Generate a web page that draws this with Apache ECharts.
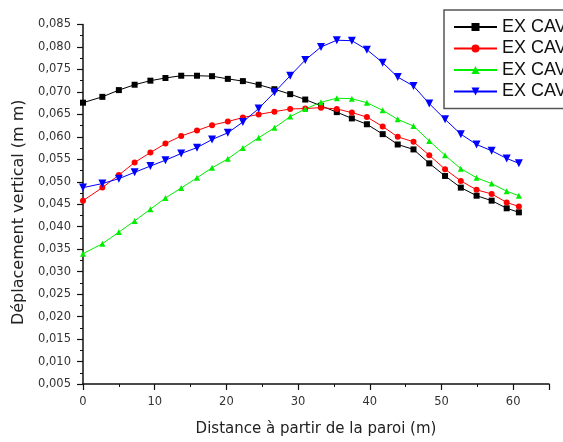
<!DOCTYPE html>
<html>
<head>
<meta charset="utf-8">
<script src="https://cdn.jsdelivr.net/npm/echarts@6/dist/echarts.min.js"></script>
<style>html,body{margin:0;padding:0;background:#fff;}#c{width:563px;height:442px;}</style>
</head>
<body>
<div id="c"></div>
<script>
const distances = [0, 2.7, 5.0, 7.2, 9.4, 11.5, 13.7, 15.9, 18.0, 20.2, 22.3, 24.5, 26.7, 28.9, 31.0, 33.2, 35.4, 37.5, 39.6, 41.8, 43.9, 46.1, 48.3, 50.5, 52.7, 54.9, 57.0, 59.1, 60.8];
const excav1 = [0.0676, 0.0689, 0.0704, 0.0716, 0.0725, 0.0731, 0.0736, 0.0736, 0.0735, 0.0729, 0.0724, 0.0716, 0.0706, 0.0695, 0.0683, 0.0669, 0.0655, 0.0641, 0.0628, 0.0606, 0.0583, 0.0572, 0.0541, 0.0513, 0.0487, 0.0469, 0.0458, 0.0441, 0.0432];
const excav2 = [0.0458, 0.0487, 0.0515, 0.0543, 0.0565, 0.0585, 0.0602, 0.0614, 0.0626, 0.0634, 0.0643, 0.0650, 0.0656, 0.0662, 0.0663, 0.0665, 0.0662, 0.0654, 0.0644, 0.0623, 0.0600, 0.0589, 0.0559, 0.0528, 0.0502, 0.0482, 0.0473, 0.0454, 0.0445];
const excav3 = [0.0340, 0.0362, 0.0388, 0.0413, 0.0439, 0.0464, 0.0486, 0.0509, 0.0531, 0.0551, 0.0575, 0.0598, 0.0620, 0.0645, 0.0662, 0.0677, 0.0686, 0.0685, 0.0676, 0.0659, 0.0639, 0.0624, 0.0591, 0.0559, 0.0529, 0.0509, 0.0496, 0.0479, 0.0469];
const excav4 = [0.0487, 0.0496, 0.0507, 0.0521, 0.0535, 0.0548, 0.0563, 0.0576, 0.0594, 0.0609, 0.0633, 0.0663, 0.0699, 0.0736, 0.0771, 0.0800, 0.0815, 0.0814, 0.0794, 0.0765, 0.0733, 0.0713, 0.0674, 0.0639, 0.0606, 0.0583, 0.0569, 0.0552, 0.0541];
const seriesNames = ['EX CAV1', 'EX CAV2', 'EX CAV3', 'EX CAV4'];
const seriesColors = ['#000000', '#ff0000', '#00ee00', '#0000ff'];
const seriesSymbols = ['rect', 'circle', 'triangle', 'path://M0,0 L10,0 L5,9 Z'];
const seriesValues = [excav1, excav2, excav3, excav4];

const chart = echarts.init(document.getElementById('c'), null, {renderer: 'canvas'});
const tickFont = 'DejaVu Sans';
const axisCommon = {
  axisLine: {show: true, onZero: false, lineStyle: {color: '#111', width: 1.5}},
  axisTick: {show: true, inside: false, length: 6, lineStyle: {color: '#111', width: 1.2}},
  minorTick: {show: true, splitNumber: 2, length: 3, lineStyle: {color: '#111', width: 1}},
  splitLine: {show: false},
  axisLabel: {color: '#333', fontFamily: tickFont, fontSize: 11.5, margin: 12},
  nameTextStyle: {color: '#222', fontFamily: tickFont, fontSize: 15}
};
chart.setOption({
  backgroundColor: '#fff',
  animation: false,
  grid: {left: 83, right: 14, top: 24.5, bottom: 56.3, containLabel: false},
  legend: {
    left: 444, top: 10,
    orient: 'vertical',
    itemWidth: 43, itemHeight: 10, itemGap: 3.5,
    padding: [8, 60, 8, 9],
    borderColor: '#555', borderWidth: 1.5, backgroundColor: '#fff',
    textStyle: {fontFamily: 'Liberation Sans', fontSize: 18, color: '#111'},
    data: seriesNames
  },
  xAxis: Object.assign({}, axisCommon, {
    type: 'value', min: 0, max: 65, interval: 10,
    name: 'Distance à partir de la paroi (m)', nameLocation: 'middle', nameGap: 38,
    axisLabel: Object.assign({}, axisCommon.axisLabel, {showMaxLabel: false})
  }),
  yAxis: Object.assign({}, axisCommon, {
    type: 'value', min: 0.005, max: 0.085, interval: 0.005,
    name: 'Déplacement vertical (m m)', nameLocation: 'middle', nameGap: 55, nameRotate: 90,
    nameTextStyle: Object.assign({}, axisCommon.nameTextStyle, {fontSize: 16, padding: [0, 16, 0, 0]}),
    axisLabel: Object.assign({}, axisCommon.axisLabel, {formatter: v => v.toFixed(3).replace('.', ',')})
  }),
  series: seriesValues.map((vals, i) => ({
    name: seriesNames[i],
    type: 'line',
    data: distances.map((d, j) => [d, vals[j]]),
    symbol: seriesSymbols[i],
    symbolSize: i === 3 ? 8 : 6,
    showAllSymbol: true,
    color: seriesColors[i],
    lineStyle: {width: 1, color: seriesColors[i]},
    itemStyle: {color: seriesColors[i]}
  }))
});
</script>
</body>
</html>
